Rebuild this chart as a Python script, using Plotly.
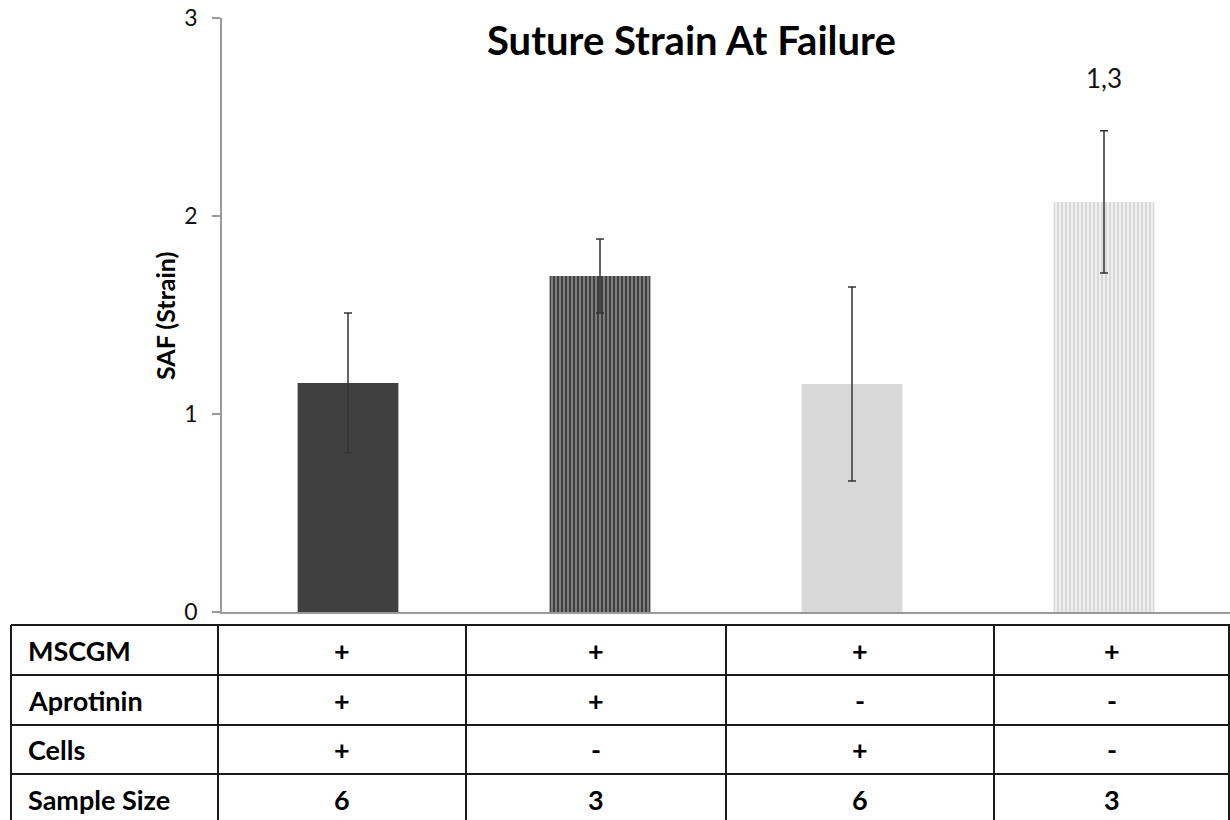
import plotly.graph_objects as go

# ---------------- data ----------------
groups = ["G1", "G2", "G3", "G4"]
saf_mean = [1.157, 1.697, 1.152, 2.071]
saf_err = [0.353, 0.187, 0.490, 0.359]
sig_labels = ["", "", "", "1,3"]
y_ticks = [0, 1, 2, 3]

row_labels = ["MSCGM", "Aprotinin", "Cells", "Sample Size"]
mscgm = ["+", "+", "+", "+"]
aprotinin = ["+", "+", "-", "-"]
cells = ["+", "-", "+", "-"]
sample_size = ["6", "3", "6", "3"]
table_rows = [mscgm, aprotinin, cells, sample_size]

# ---------------- styling / layout geometry ----------------
W, H = 1230, 820
ML, MR, MT, MB = 222, 0, 18, 208
PW, PH = W - ML - MR, H - MT - MB
FONT = "Lato"

bar_colors = ["#404040", "#404040", "#d9d9d9", "#d9d9d9"]
pat_shape = ["", "|", "", "|"]
pat_fg = ["#404040", "#a8a8a8", "#d9d9d9", "#ffffff"]
pat_sol = [0.3, 0.3, 0.3, 0.3]


def px(xp):
    return (xp - ML) / PW


def py(yp):
    return (H - MB - yp) / PH


fig = go.Figure()
for i, g in enumerate(groups):
    fig.add_trace(go.Bar(
        x=[g], y=[saf_mean[i]], width=0.4,
        marker=dict(color=bar_colors[i], line=dict(width=0),
                    pattern=dict(shape=pat_shape[i], fgcolor=pat_fg[i],
                                 bgcolor=bar_colors[i], fgopacity=1,
                                 size=4, solidity=pat_sol[i], fillmode="replace")),
        error_y=dict(type="data", array=[saf_err[i]], visible=True,
                     color="#333333", thickness=1.5, width=4),
        showlegend=False,
    ))

# significance labels above bars
for g, m, e, s in zip(groups, saf_mean, saf_err, sig_labels):
    if s:
        fig.add_annotation(x=g, y=m + e, yref="y", text=s, showarrow=False,
                           yshift=53, font=dict(family=FONT, size=26, color="#111"))

annotations = []
shapes = []

# title
annotations.append(dict(x=px(691), y=py(40), xref="paper", yref="paper",
                        text="<b>Suture Strain At Failure</b>", showarrow=False,
                        xanchor="center", yanchor="middle",
                        font=dict(family=FONT, size=40, color="#000")))
# y-axis title
annotations.append(dict(x=px(165), y=py(316), xref="paper", yref="paper",
                        text="<b>SAF (Strain)</b>", showarrow=False, textangle=-90,
                        xanchor="center", yanchor="middle",
                        font=dict(family=FONT, size=25, color="#000")))

# table geometry (pixels)
tbl_left, tbl_right = 11, 1230
col_x = [218, 466, 726, 994]
row_y = [625, 675, 725, 774, 824]

line_c = "#1a1a1a"
for yv in row_y:
    shapes.append(dict(type="line", xref="paper", yref="paper",
                       x0=px(tbl_left), x1=px(tbl_right), y0=py(yv), y1=py(yv),
                       line=dict(color=line_c, width=2)))
for xv in [tbl_left] + col_x + [tbl_right - 1]:
    shapes.append(dict(type="line", xref="paper", yref="paper",
                       x0=px(xv), x1=px(xv), y0=py(row_y[0]), y1=py(row_y[-1]),
                       line=dict(color=line_c, width=2)))

col_edges = col_x + [tbl_right]
for r, (lab, vals) in enumerate(zip(row_labels, table_rows)):
    yc = (row_y[r] + row_y[r + 1]) / 2
    annotations.append(dict(x=px(26), y=py(yc), xref="paper", yref="paper",
                            text=f"<b>{lab}</b>", showarrow=False,
                            xanchor="left", yanchor="middle",
                            font=dict(family=FONT, size=27, color="#000")))
    for c, v in enumerate(vals):
        xc = (col_edges[c] + col_edges[c + 1]) / 2
        annotations.append(dict(x=px(xc), y=py(yc), xref="paper", yref="paper",
                                text=f"<b>{v}</b>", showarrow=False,
                                xanchor="center", yanchor="middle",
                                font=dict(family=FONT, size=27, color="#000")))

fig.update_layout(
    width=W, height=H,
    margin=dict(l=ML, r=MR, t=MT, b=MB),
    paper_bgcolor="white", plot_bgcolor="white",
    font=dict(family=FONT, color="#000"),
    annotations=list(fig.layout.annotations) + annotations,
    shapes=shapes,
    barmode="overlay",
)
fig.update_xaxes(showticklabels=False, ticks="", showgrid=False, zeroline=False,
                 showline=True, linecolor="#9a9a9a", linewidth=1.5,
                 range=[-0.5, 3.5], fixedrange=True)
fig.update_yaxes(range=[0, 3], tickvals=y_ticks, ticktext=[str(t) for t in y_ticks],
                 showgrid=False, zeroline=False, showline=True,
                 linecolor="#9a9a9a", linewidth=1.5,
                 ticks="outside", ticklen=8, tickcolor="#9a9a9a", tickwidth=1.5,
                 tickfont=dict(family=FONT, size=23, color="#111"),
                 ticklabelstandoff=10)

fig.write_html("out.html")
